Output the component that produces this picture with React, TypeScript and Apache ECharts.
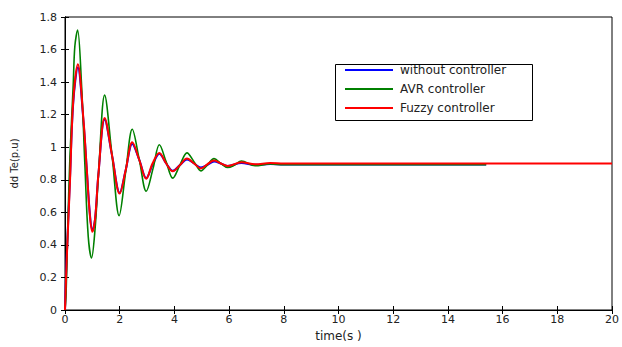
import React, { useEffect, useRef } from "react";
import * as echarts from "echarts";

const xTicks = [0, 2, 4, 6, 8, 10, 12, 14, 16, 18, 20];
const yTicks = [0, 0.2, 0.4, 0.6, 0.8, 1, 1.2, 1.4, 1.6, 1.8];

const seriesNames = ["without controller", "AVR controller", "Fuzzy controller"];
const seriesColors = ["#0000ff", "#008000", "#ff0000"];

const tWithout = [0, 0.06, 0.18, 0.3, 0.47, 0.67, 0.79, 0.91, 1.0, 1.1, 1.22, 1.45, 1.72, 2.0, 2.22, 2.46, 2.72, 2.97, 3.2, 3.45, 3.7, 3.94, 4.2, 4.46, 4.72, 4.97, 5.2, 5.45, 5.7, 5.95, 6.45, 6.95, 7.5, 8, 15.4];
const vWithout = [0, 0.31, 0.8, 1.27, 1.49, 1.17, 0.88, 0.59, 0.49, 0.56, 0.83, 1.17, 0.95, 0.72, 0.86, 1.02, 0.92, 0.81, 0.89, 0.96, 0.9, 0.855, 0.89, 0.925, 0.9, 0.875, 0.89, 0.912, 0.9, 0.885, 0.903, 0.892, 0.897, 0.894, 0.894];

const tAvr = [0, 0.04, 0.1, 0.18, 0.3, 0.36, 0.46, 0.6, 0.73, 0.85, 0.97, 1.1, 1.22, 1.45, 1.72, 1.98, 2.22, 2.46, 2.72, 2.97, 3.22, 3.45, 3.7, 3.94, 4.2, 4.46, 4.72, 4.97, 5.2, 5.45, 5.7, 5.95, 6.2, 6.45, 6.95, 7.5, 8, 15.4];
const vAvr = [0, 0.1, 0.5, 0.94, 1.38, 1.62, 1.72, 1.4, 0.88, 0.45, 0.32, 0.5, 0.82, 1.32, 0.95, 0.58, 0.85, 1.11, 0.92, 0.73, 0.87, 1.015, 0.91, 0.81, 0.89, 0.965, 0.91, 0.855, 0.89, 0.93, 0.9, 0.875, 0.89, 0.915, 0.886, 0.897, 0.892, 0.892];

const tFuzzy = [0, 0.06, 0.18, 0.3, 0.47, 0.67, 0.79, 0.91, 1.0, 1.1, 1.22, 1.45, 1.72, 2.0, 2.22, 2.46, 2.72, 2.97, 3.2, 3.45, 3.7, 3.94, 4.2, 4.46, 4.72, 4.97, 5.2, 5.45, 5.7, 5.95, 6.45, 6.95, 7.5, 8, 20];
const vFuzzy = [0, 0.3, 0.78, 1.28, 1.51, 1.18, 0.88, 0.58, 0.48, 0.56, 0.83, 1.18, 0.95, 0.715, 0.86, 1.03, 0.92, 0.806, 0.9, 0.965, 0.9, 0.852, 0.89, 0.93, 0.9, 0.87, 0.895, 0.918, 0.9, 0.885, 0.908, 0.895, 0.903, 0.9, 0.9];

const zip = (t: number[], v: number[]) => t.map((x, i) => [x, v[i]]);

export default function App() {
  const ref = useRef<HTMLDivElement>(null);
  useEffect(() => {
    if (!ref.current) return;
    const chart = echarts.init(ref.current, null, { renderer: "svg" });
    const font = "DejaVu Sans";
    const axisLabel = { color: "#222", fontSize: 11, fontFamily: font };
    const grid = { left: 65, right: 7, top: 17, bottom: 29 };
    const datas = [zip(tWithout, vWithout), zip(tAvr, vAvr), zip(tFuzzy, vFuzzy)];
    const widths = [2, 1.6, 2];
    chart.setOption({
      animation: false,
      backgroundColor: "#fff",
      grid: { ...grid, show: true, borderColor: "#000", borderWidth: 1 },
      xAxis: [
        {
          type: "value", min: 0, max: 20, interval: 2,
          axisLine: { show: true, lineStyle: { color: "#000" } },
          axisTick: { inside: true, length: 4, lineStyle: { color: "#000" } },
          axisLabel: { ...axisLabel, margin: 4, formatter: (v: number) => (xTicks.includes(v) ? String(v) : "") },
          splitLine: { show: false },
          name: "time(s )", nameLocation: "middle", nameGap: 20,
          nameTextStyle: { color: "#222", fontSize: 12, fontFamily: font },
        },
        {
          type: "value", min: 0, max: 20, interval: 2, position: "top",
          axisLine: { show: true, lineStyle: { color: "#000" } },
          axisTick: { inside: true, length: 4, lineStyle: { color: "#000" } },
          axisLabel: { show: false }, splitLine: { show: false },
        },
      ],
      yAxis: [
        {
          type: "value", min: 0, max: 1.8, interval: 0.2,
          axisLine: { show: true, lineStyle: { color: "#000" } },
          axisTick: { inside: true, length: 4, lineStyle: { color: "#000" } },
          axisLabel: { ...axisLabel, margin: 8, formatter: (v: number) => { const r = Math.round(v * 10) / 10; return yTicks.includes(r) ? String(r) : ""; } },
          splitLine: { show: false },
          name: "dd Te(p.u)", nameLocation: "middle", nameGap: 46, nameRotate: 90,
          nameTextStyle: { color: "#222", fontSize: 10, fontFamily: font },
        },
        {
          type: "value", min: 0, max: 1.8, interval: 0.2, position: "right",
          axisLine: { show: true, lineStyle: { color: "#000" } },
          axisTick: { inside: true, length: 4, lineStyle: { color: "#000" } },
          axisLabel: { show: false }, splitLine: { show: false },
        },
      ],
      legend: {
        orient: "vertical", left: 333, top: 64,
        padding: [0, 8, 3, 12],
        icon: "rect",
        itemWidth: 48, itemHeight: 2, itemGap: 7,
        data: seriesNames,
        textStyle: { color: "#222", fontSize: 12, fontFamily: font, padding: [0, 0, 0, 2] },
      },
      graphic: [
        {
          type: "rect", left: 333, top: 62, z: 100, silent: true,
          shape: { width: 197, height: 56 },
          style: { fill: "none", stroke: "#000", lineWidth: 1 },
        },
      ],
      series: datas.map((d, i) => ({
        name: seriesNames[i],
        type: "line",
        data: d,
        showSymbol: false,
        symbol: "none",
        smooth: 0.35,
        z: [2, 3, 4][i],
        lineStyle: { color: seriesColors[i], width: widths[i] },
        itemStyle: { color: seriesColors[i] },
      })),
    });
    return () => chart.dispose();
  }, []);
  return <div ref={ref} style={{ width: 622, height: 347, position: "absolute", left: 0, top: 0 }} />;
}
